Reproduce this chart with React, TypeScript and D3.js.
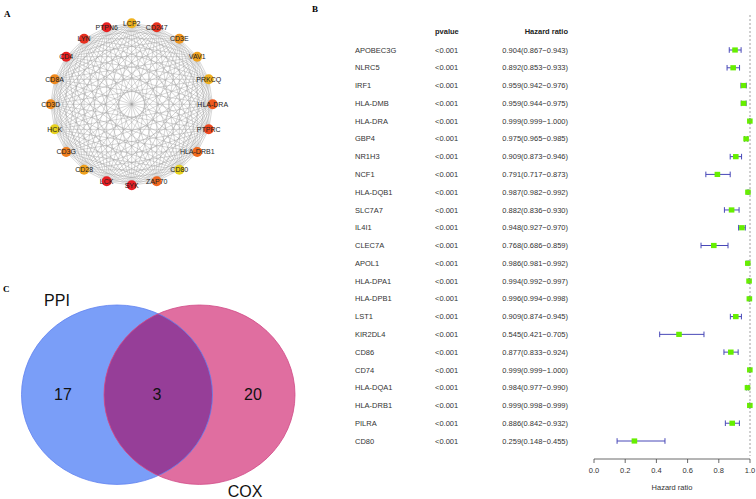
import React from "react";
import * as d3 from "d3";

// ---------- Panel A: PPI network ----------
const nodeNames = [
  "LCP2", "CD247", "CD3E", "VAV1", "PRKCQ", "HLA-DRA", "PTPRC", "HLA-DRB1", "CD80", "ZAP70",
  "SYK", "LCK", "CD28", "CD3G", "HCK", "CD3D", "CD8A", "CD4", "LYN", "PTPN6",
];
const nodeColors = [
  "#f0b21e", "#e8321e", "#f0961e", "#f0a21e", "#f0b01e", "#f05a1e", "#f0481e", "#f06a1e", "#e8d21e", "#f0661e",
  "#e81e24", "#e81e24", "#f0a21e", "#f07e1e", "#e8d21e", "#f08a1e", "#f08a1e", "#e82020", "#e83020", "#e82020",
];

// ---------- Panel B: forest plot ----------
const genes = [
  "APOBEC3G", "NLRC5", "IRF1", "HLA-DMB", "HLA-DRA", "GBP4", "NR1H3", "NCF1", "HLA-DQB1", "SLC7A7",
  "IL4I1", "CLEC7A", "APOL1", "HLA-DPA1", "HLA-DPB1", "LST1", "KIR2DL4", "CD86", "CD74", "HLA-DQA1",
  "HLA-DRB1", "PILRA", "CD80",
];
const pvalues = Array(23).fill("<0.001");
const hr = [0.904, 0.892, 0.959, 0.959, 0.999, 0.975, 0.909, 0.791, 0.987, 0.882, 0.948, 0.768, 0.986, 0.994, 0.996, 0.909, 0.545, 0.877, 0.999, 0.984, 0.999, 0.886, 0.259];
const hrLow = [0.867, 0.853, 0.942, 0.944, 0.999, 0.965, 0.873, 0.717, 0.982, 0.836, 0.927, 0.686, 0.981, 0.992, 0.994, 0.874, 0.421, 0.833, 0.999, 0.977, 0.998, 0.842, 0.148];
const hrHigh = [0.943, 0.933, 0.976, 0.975, 1.0, 0.985, 0.946, 0.873, 0.992, 0.93, 0.97, 0.859, 0.992, 0.997, 0.998, 0.945, 0.705, 0.924, 1.0, 0.99, 0.999, 0.932, 0.455];
const xTicks = [0, 0.2, 0.4, 0.6, 0.8, 1.0];

// ---------- Panel C: Venn ----------
const vennSets = ["PPI", "COX"];
const vennCounts = [17, 3, 20]; // PPI only, both, COX only

const narrow = "'Liberation Sans Narrow', 'Arial Narrow', Arial, sans-serif";
const sans = "Arial, 'Liberation Sans', Helvetica, sans-serif";

export default function App() {
  // network
  const cx = 131.7, cy = 104.3, R = 81;
  const angle = d3.scaleLinear().domain([0, nodeNames.length]).range([0, 2 * Math.PI]);
  const nodes = nodeNames.map((n, i) => ({
    name: n,
    color: nodeColors[i],
    x: cx + R * Math.sin(angle(i)),
    y: cy - R * Math.cos(angle(i)),
  }));
  const edges: [number, number][] = [];
  for (let i = 0; i < nodes.length; i++) for (let j = i + 1; j < nodes.length; j++) edges.push([i, j]);

  // forest
  const x = d3.scaleLinear().domain([0, 1]).range([594, 750]);
  const y = d3.scalePoint<string>().domain(genes).range([50, 441]);

  // venn
  const vy = 394.7, rx = 95.5, ry = 89.7;
  const vx = d3.scaleOrdinal<string, number>().domain(vennSets).range([117, 199.5]);

  return (
    <div style={{ position: "fixed", left: 0, top: 0 }}>
      <svg width={756} height={499} style={{ display: "block", background: "#fff" }}>
        {/* Panel labels */}
        <text x={4} y={17} fontFamily="'Liberation Serif', 'Times New Roman', serif" fontWeight="bold" fontSize={9}>A</text>
        <text x={312} y={12} fontFamily="'Liberation Serif', 'Times New Roman', serif" fontWeight="bold" fontSize={9}>B</text>
        <text x={3} y={292} fontFamily="'Liberation Serif', 'Times New Roman', serif" fontWeight="bold" fontSize={9}>C</text>

        {/* Panel A */}
        <g>
          {edges.map(([a, b], k) => (
            <line key={k} x1={nodes[a].x} y1={nodes[a].y} x2={nodes[b].x} y2={nodes[b].y} stroke="#9a9a9a" strokeWidth={0.4} />
          ))}
          {nodes.map((n) => (
            <g key={n.name}>
              <circle cx={n.x} cy={n.y} r={5} fill={n.color} />
              <text x={n.x} y={n.y} dy="0.35em" textAnchor="middle" fontFamily={sans} fontSize={7} fill="#222">
                {n.name}
              </text>
            </g>
          ))}
        </g>

        {/* Panel B */}
        <g fontFamily={narrow}>
          <text x={435} y={34} fontSize={7.5} fontWeight="bold" fill="#222">pvalue</text>
          <text x={568} y={34} fontSize={7.5} fontWeight="bold" fill="#222" textAnchor="end">Hazard ratio</text>
          {genes.map((g, i) => {
            const yy = y(g)!;
            return (
              <g key={g}>
                <text x={355} y={yy} dy="0.35em" fontSize={7.5} fill="#333">{g}</text>
                <text x={435} y={yy} dy="0.35em" fontSize={7.5} fill="#333">{pvalues[i]}</text>
                <text x={568} y={yy} dy="0.35em" fontSize={7.5} fill="#333" textAnchor="end">
                  {`${hr[i].toFixed(3)}(${hrLow[i].toFixed(3)}\u2212${hrHigh[i].toFixed(3)})`}
                </text>
                <line x1={x(hrLow[i])} x2={x(hrHigh[i])} y1={yy} y2={yy} stroke="#4848b8" strokeWidth={1} />
                <line x1={x(hrLow[i])} x2={x(hrLow[i])} y1={yy - 2.8} y2={yy + 2.8} stroke="#4848b8" strokeWidth={1} />
                <line x1={x(hrHigh[i])} x2={x(hrHigh[i])} y1={yy - 2.8} y2={yy + 2.8} stroke="#4848b8" strokeWidth={1} />
                <rect x={x(hr[i]) - 2.8} y={yy - 2.6} width={5.6} height={5.2} fill="#66ee00" />
              </g>
            );
          })}
          <line x1={x(1)} x2={x(1)} y1={15} y2={456} stroke="#888" strokeWidth={0.8} strokeDasharray="2,2" />
          <line x1={x(0)} x2={x(1)} y1={459} y2={459} stroke="#444" strokeWidth={0.8} />
          {xTicks.map((t) => (
            <g key={t}>
              <line x1={x(t)} x2={x(t)} y1={459} y2={463} stroke="#444" strokeWidth={0.8} />
              <text x={x(t)} y={473} textAnchor="middle" fontFamily={sans} fontSize={7.5} fill="#333">
                {d3.format(".1f")(t)}
              </text>
            </g>
          ))}
          <text x={672} y={490} textAnchor="middle" fontFamily={sans} fontSize={7.5} fill="#333">Hazard ratio</text>
        </g>

        {/* Panel C */}
        <defs>
          <clipPath id="clipPPI">
            <ellipse cx={vx("PPI")} cy={vy} rx={rx} ry={ry} />
          </clipPath>
        </defs>
        <g>
          <ellipse cx={vx("PPI")} cy={vy} rx={rx} ry={ry} fill="#7a9ef8" />
          <ellipse cx={vx("COX")} cy={vy} rx={rx} ry={ry} fill="#e06ea0" />
          <ellipse cx={vx("COX")} cy={vy} rx={rx} ry={ry} fill="#963e98" clipPath="url(#clipPPI)" />
          <ellipse cx={vx("PPI")} cy={vy} rx={rx} ry={ry} fill="none" stroke="#5f82f0" strokeWidth={0.8} />
          <ellipse cx={vx("COX")} cy={vy} rx={rx} ry={ry} fill="none" stroke="#d04a86" strokeWidth={0.8} />
          <g fontFamily={sans} fontSize={16} fill="#111" textAnchor="middle">
            <text x={63} y={394} dy="0.35em">{vennCounts[0]}</text>
            <text x={157} y={394} dy="0.35em">{vennCounts[1]}</text>
            <text x={253} y={394} dy="0.35em">{vennCounts[2]}</text>
            <text x={57} y={306}>{vennSets[0]}</text>
            <text x={245} y={497}>{vennSets[1]}</text>
          </g>
        </g>
      </svg>
    </div>
  );
}
